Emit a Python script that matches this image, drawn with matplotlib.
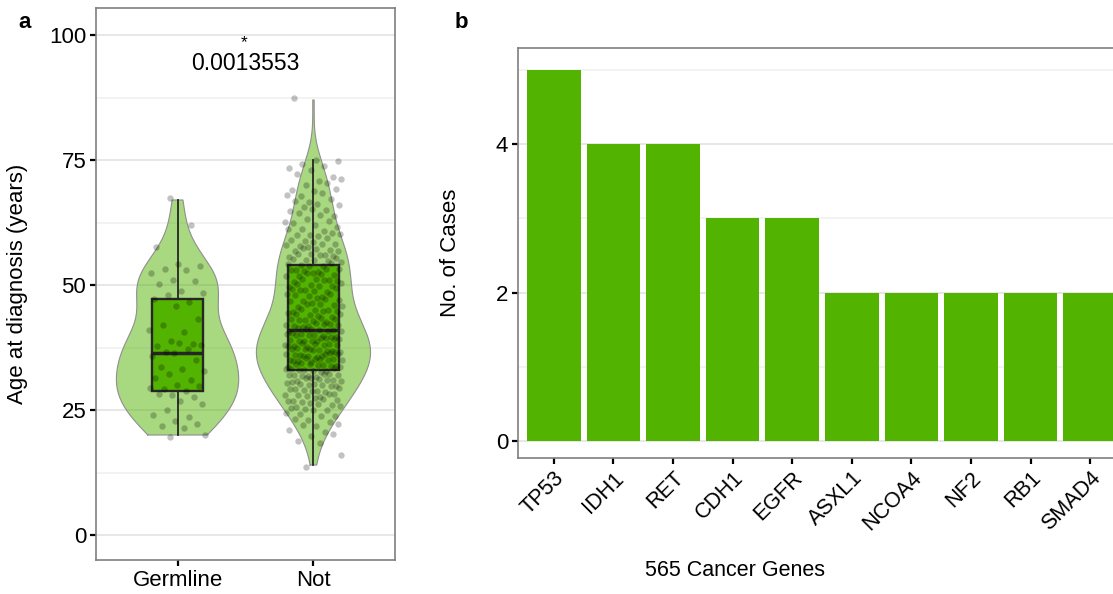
import numpy as np
import matplotlib
matplotlib.use('Agg')
import matplotlib.pyplot as plt

plt.rcParams['font.family'] = ['Liberation Sans', 'DejaVu Sans']

# ---------------- data ----------------
groups = ['Germline', 'Not']

germline_ages = [20, 20, 21, 22, 22, 23, 24, 24, 25, 26, 27, 28, 28, 28, 29, 29, 29,
                 30, 30, 31, 31, 32, 33, 33, 34, 35, 36, 36, 37, 37, 38, 38, 38, 38,
                 39, 41, 41, 42, 43, 46, 47, 47, 48, 48, 49, 50, 51, 51, 52, 53, 53,
                 54, 54, 58, 62, 67]

not_age_values = [14, 15, 16, 17, 18, 19, 20, 21, 22, 23, 24, 25, 26, 27, 28, 29, 30,
                  31, 32, 33, 34, 35, 36, 37, 38, 39, 40, 41, 42, 43, 44, 45, 46, 47,
                  48, 49, 50, 51, 52, 53, 54, 55, 56, 57, 58, 59, 60, 61, 62, 63, 64,
                  65, 66, 67, 68, 69, 70, 71, 72, 73, 74, 75, 87]
not_age_counts = [1, 0, 1, 0, 1, 1, 2, 2, 3, 3, 4, 4, 5, 6, 6, 7, 7,
                  8, 8, 8, 9, 10, 10, 10, 9, 9, 9, 8, 8, 7, 6, 6, 6, 5,
                  5, 6, 6, 6, 6, 6, 5, 6, 6, 5, 5, 4, 5, 3, 3, 3, 3,
                  3, 3, 3, 3, 3, 2, 2, 2, 2, 2, 2, 1]

pvalue_text = '0.0013553'
star_text = '*'

genes = ['TP53', 'IDH1', 'RET', 'CDH1', 'EGFR', 'ASXL1', 'NCOA4', 'NF2', 'RB1', 'SMAD4']
cases = [5, 4, 4, 3, 3, 2, 2, 2, 2, 2]

# ---------------- style ----------------
GREEN = '#52B300'
W, H = 1113, 594
fig = plt.figure(figsize=(W / 100, H / 100), dpi=100)

def style_axes(ax):
    for s in ax.spines.values():
        s.set_color('#7f7f7f')
        s.set_linewidth(1.2)
    ax.tick_params(which='major', length=4, width=1.6, color='black', pad=3)
    ax.tick_params(which='minor', length=0)

# ---------------- panel a ----------------
ax1 = fig.add_axes([96 / W, 1 - 560 / H, 299 / W, 552 / H])
ax1.set_xlim(-0.6, 1.6)
ax1.set_ylim(-5.0, 105.4)
style_axes(ax1)
for y in [0, 25, 50, 75, 100]:
    ax1.axhline(y, color='#e3e3e3', lw=1.2, zorder=0)
for y in [12.5, 37.5, 62.5, 87.5]:
    ax1.axhline(y, color='#f1f1f1', lw=1.2, zorder=0)

not_ages = np.repeat(not_age_values, not_age_counts)
datasets = [np.array(germline_ages, float), not_ages.astype(float)]
max_half = [0.45, 0.42]

for i, d in enumerate(datasets):
    n = len(d)
    iqr = np.subtract(*np.percentile(d, [75, 25]))
    bw = 0.9 * min(d.std(ddof=1), iqr / 1.34) * n ** -0.2
    yy = np.linspace(d.min(), d.max(), 512)
    dens = np.exp(-0.5 * ((yy[:, None] - d[None, :]) / bw) ** 2).sum(axis=1)
    half = dens / dens.max() * max_half[i]
    ax1.fill_betweenx(yy, i - half, i + half, facecolor=GREEN, alpha=0.5,
                      edgecolor='none', zorder=1)
    ax1.plot(np.r_[i - half, (i + half)[::-1], i - half[0]],
             np.r_[yy, yy[::-1], yy[0]], color='#8f8f8f', lw=0.8, zorder=1.5)

bp = ax1.boxplot(datasets, positions=[0, 1], widths=0.375, whis=1.5,
                 showfliers=False, showcaps=False, patch_artist=True, zorder=2,
                 boxprops=dict(facecolor=GREEN, edgecolor='#262626', linewidth=1.7),
                 whiskerprops=dict(color='#262626', linewidth=1.3),
                 medianprops=dict(color='#262626', linewidth=2.5))

for i, d in enumerate(datasets):
    n = len(d)
    k = np.arange(n)
    xoff = (((k * 0.6180339887) + 0.37) % 1.0 - 0.5) * 0.42
    yoff = (((k * 0.4142135624) + 0.11) % 1.0 - 0.5) * 0.8
    ax1.scatter(i + xoff, d + yoff, s=21, c='black', alpha=0.24, linewidths=0, zorder=4)

ax1.text(0.5, 94.3, pvalue_text, ha='center', va='center', fontsize=16.5, zorder=5)
ax1.text(0.49, 96.9, star_text, ha='center', va='bottom', fontsize=12.5, zorder=5)

ax1.set_xticks([0, 1])
ax1.set_xticklabels(groups, fontsize=16)
ax1.set_yticks([0, 25, 50, 75, 100])
ax1.set_yticklabels(['0', '25', '50', '75', '100'], fontsize=16)
ax1.set_ylabel('Age at diagnosis (years)', fontsize=16)
ax1.yaxis.set_label_coords((28 - 96) / 299, 0.5)

fig.text(18 / W, 1 - 22 / H, 'a', fontsize=16, fontweight='bold', ha='left', va='center')

# ---------------- panel b ----------------
ax2 = fig.add_axes([518 / W, 1 - 458 / H, 608 / W, 410 / H])
xpos = np.arange(len(genes))
ax2.set_xlim(-0.6, 9.6)
ax2.set_ylim(-0.229, 5.293)
style_axes(ax2)
for y in [0, 2, 4]:
    ax2.axhline(y, color='#e3e3e3', lw=1.2, zorder=0)
for y in [1, 3, 5]:
    ax2.axhline(y, color='#f1f1f1', lw=1.2, zorder=0)
ax2.bar(xpos, cases, width=0.9, color=GREEN, zorder=2)
ax2.set_xticks(xpos)
ax2.set_xticklabels(genes, rotation=45, ha='right', rotation_mode='anchor', fontsize=15.5)
ax2.set_yticks([0, 2, 4])
ax2.set_yticklabels(['0', '2', '4'], fontsize=16)
ax2.set_ylabel('No. of Cases', fontsize=16)
ax2.yaxis.set_label_coords((461 - 518) / 608, 0.5)
ax2.set_xlabel('565 Cancer Genes', fontsize=15.5)
ax2.xaxis.set_label_coords((735 - 518) / 608, (458 - 560) / 410)

fig.text(455 / W, 1 - 22 / H, 'b', fontsize=16, fontweight='bold', ha='left', va='center')

fig.savefig('out.png', dpi=100)
